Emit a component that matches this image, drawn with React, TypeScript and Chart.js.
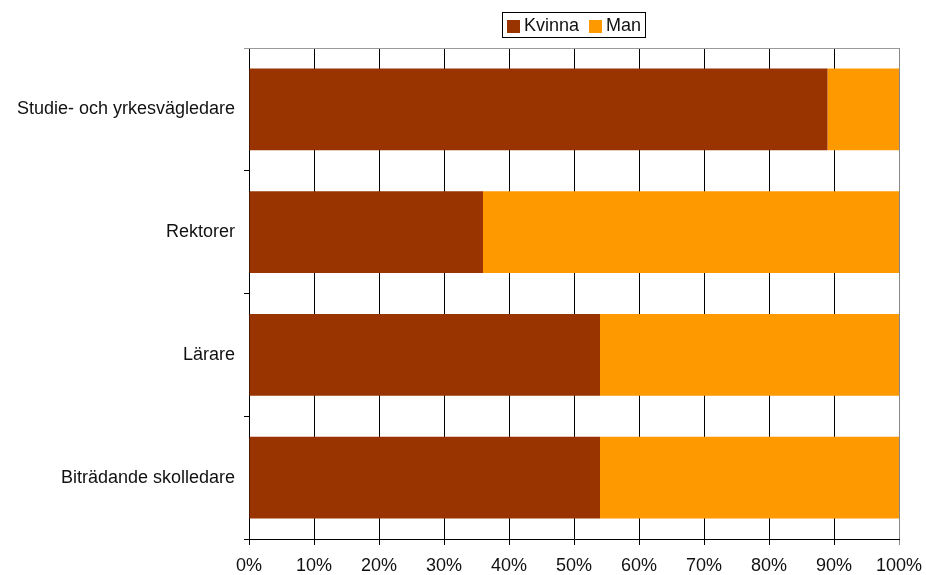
import React, { useEffect, useRef } from "react";
import { Chart, registerables } from "chart.js";

Chart.register(...registerables);

const categories = ["Studie- och yrkesvägledare", "Rektorer", "Lärare", "Biträdande skolledare"];
const kvinna = [89, 36, 54, 54];
const man = [11, 64, 46, 46];
const seriesNames = ["Kvinna", "Man"];
const seriesColors = ["#993300", "#FF9900"];
const xTicks = [0, 10, 20, 30, 40, 50, 60, 70, 80, 90, 100];

const FONT = "'Liberation Sans', Arial, Helvetica, sans-serif";

const frameLines = {
  id: "frameLines",
  afterDraw(chart: any) {
    const { ctx, chartArea } = chart;
    ctx.save();
    ctx.strokeStyle = "#999999";
    ctx.lineWidth = 1;
    ctx.beginPath();
    const y = Math.round(chartArea.top) + 0.5;
    ctx.moveTo(chartArea.left - 5, y);
    ctx.lineTo(chartArea.right + 0.5, y);
    ctx.stroke();
    ctx.restore();
  },
};

export default function App() {
  const ref = useRef<HTMLCanvasElement | null>(null);
  useEffect(() => {
    if (!ref.current) return;
    const chart = new Chart(ref.current, {
      type: "bar",
      data: {
        labels: categories,
        datasets: [
          { label: seriesNames[0], data: kvinna, backgroundColor: seriesColors[0], borderWidth: 0 },
          { label: seriesNames[1], data: man, backgroundColor: seriesColors[1], borderWidth: 0 },
        ],
      },
      options: {
        indexAxis: "y",
        animation: false,
        responsive: false,
        maintainAspectRatio: false,
        barPercentage: 0.668,
        categoryPercentage: 1,
        layout: { padding: { top: 48, right: 27, left: 0, bottom: 0 } },
        plugins: { legend: { display: false }, tooltip: { enabled: false } },
        scales: {
          x: {
            stacked: true,
            min: 0,
            max: 100,
            afterBuildTicks: (scale: any) => {
              scale.ticks = xTicks.map((v) => ({ value: v }));
            },
            afterFit: (scale: any) => {
              scale.height = 36;
              scale.paddingLeft = 0;
              scale.paddingRight = 0;
            },
            ticks: {
              callback: (v: any) => `${v}%`,
              color: "#111",
              font: { family: FONT, size: 18 },
              padding: 10,
              maxRotation: 0,
              autoSkip: false,
            },
            grid: {
              color: (ctx: any) => (ctx.tick && ctx.tick.value === 100 ? "#888888" : "#000000"),
              lineWidth: 1,
              tickLength: 6,
            },
            border: { color: "#000", width: 1 },
          },
          y: {
            stacked: true,
            afterFit: (scale: any) => {
              scale.width = 249;
              scale.paddingTop = 0;
              scale.paddingBottom = 0;
            },
            ticks: {
              color: "#111",
              font: { family: FONT, size: 18 },
              padding: 9,
            },
            grid: {
              offset: true,
              drawOnChartArea: false,
              drawTicks: true,
              tickLength: 5,
              color: "#000",
            },
            border: { color: "#000", width: 1 },
          },
        },
      },
      plugins: [frameLines],
    });
    return () => chart.destroy();
  }, []);

  const swatch = (left: number, color: string) => (
    <span
      style={{ position: "absolute", left, top: 7, width: 13, height: 13, background: color }}
    />
  );
  const label = (left: number, text: string) => (
    <span style={{ position: "absolute", left, top: 1, lineHeight: "22px" }}>{text}</span>
  );

  return (
    <div style={{ position: "fixed", left: 0, top: 0, width: 926, height: 575, background: "#fff" }}>
      <canvas ref={ref} width={926} height={575} style={{ display: "block" }} />
      <div
        style={{
          position: "absolute",
          left: 502,
          top: 12,
          width: 144,
          height: 26,
          boxSizing: "border-box",
          border: "1px solid #000",
          fontFamily: FONT,
          fontSize: 18,
          color: "#111",
          whiteSpace: "nowrap",
        }}
      >
        {swatch(4, seriesColors[0])}
        {label(21, seriesNames[0])}
        {swatch(86, seriesColors[1])}
        {label(103, seriesNames[1])}
      </div>
    </div>
  );
}
